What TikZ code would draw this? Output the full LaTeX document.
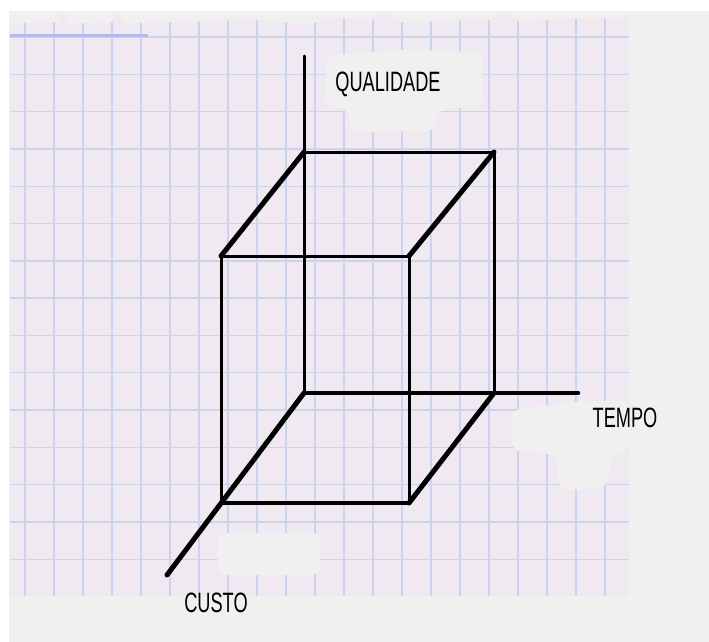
\documentclass[tikz,border=0pt]{standalone}
\usepackage{fontspec}
\setmainfont{Liberation Sans}
\usepackage{graphicx}
\definecolor{papel}{RGB}{241,233,241}
\definecolor{fundo}{RGB}{240,240,240}
\definecolor{quadric}{RGB}{202,212,238}
\definecolor{risco}{RGB}{176,188,230}
\newcommand{\rotulo}[1]{\scalebox{0.65}[1]{#1}}
\begin{document}
\begin{tikzpicture}[declare function={a=10; b=629; c=11; d=596;}, x=1pt, y=-1pt, font=\fontsize{28}{30}\selectfont, line join=round, line cap=round, line width=3pt]
	\useasboundingbox (0,0) rectangle (709,642);
	\fill[white] (0,0) rectangle (709,642);
	\fill[fundo] (9,c) rectangle (709,642);
	\fill[papel] (a,c) rectangle (b,d);
	\foreach \i in {0,...,20} \draw[quadric,line width=1.4pt,line cap=butt] ({25+29*\i},c) -- ({25+29*\i},d);
	\foreach \j in {0,...,14} \draw[quadric,line width=1.4pt,line cap=butt] (a,{37+37.3*\j}) -- (b,{37+37.3*\j});
	\fill[fundo] (a,c) -- (b,c) -- (b,18) -- (560,19) -- (520,22) -- (505,13) -- (490,20) -- (400,22) -- (380,12) -- (372,20) -- (330,18) -- (310,24) -- (250,20) -- (125,23) -- (118,12) -- (112,22) -- (68,24) -- (63,12) -- (58,22) -- (a,23) -- cycle;
	\fill[fundo,rounded corners=8pt] (326,56) -- (400,50) -- (482,52) -- (482,106) -- (438,110) -- (434,131) -- (352,132) -- (348,110) -- (326,106) -- cycle;
	\fill[fundo,rounded corners=8pt] (512,410) -- (575,402) -- (b,400) -- (b,452) -- (612,455) -- (606,488) -- (560,490) -- (556,455) -- (512,450) -- cycle;
	\fill[fundo,rounded corners=8pt] (218,533) rectangle (320,575);
	\draw[risco,line cap=butt] (a,36) -- (148,36);
	\coordinate (O) at (304,393);
	\coordinate (Q) at (304,56);
	\coordinate (T) at (578,393);
	\coordinate (C) at (167,575);
	\coordinate (ATE) at (304,152);
	\coordinate (ATD) at (494,152);
	\coordinate (ABD) at (494,393);
	\coordinate (FTE) at (221,256);
	\coordinate (FTD) at (409,256);
	\coordinate (FBE) at (221,503);
	\coordinate (FBD) at (409,503);
	\draw (O) -- (Q);
	\draw[line width=4.5pt] (O) -- (T);
	\draw[line width=5pt] (O) -- (C);
	\draw (ATE) -- (ATD) -- (ABD) (FTE) -- (FTD) -- (FBD) (FTE) -- (FBE);
	\draw[line width=4pt] (FBE) -- (FBD);
	\draw[line width=5pt] (ATE) -- (FTE) (ATD) -- (FTD) (ABD) -- (FBD);
	\node[anchor=base,inner sep=0pt] (qualidade) at (388,91) {\rotulo{QUALIDADE}};
	\node[anchor=base,inner sep=0pt] (tempo) at (625,427) {\rotulo{TEMPO}};
	\node[anchor=base,inner sep=0pt] (custo) at (216,612) {\rotulo{CUSTO}};
\end{tikzpicture}
\end{document}
